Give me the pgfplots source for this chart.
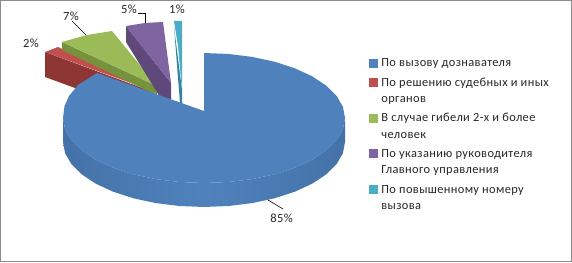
\documentclass[border=0pt]{standalone}
\usepackage{pgfplots}
\pgfplotsset{compat=1.18}
\usepackage{fontspec}
\setmainfont[LetterSpace=3]{Carlito}
\definecolor{cb}{HTML}{4F81BD}
\definecolor{cr}{HTML}{C0504D}
\definecolor{cg}{HTML}{9BBB59}
\definecolor{cp}{HTML}{8064A2}
\definecolor{ct}{HTML}{4BACC6}
\definecolor{wr}{HTML}{8E3634}
\definecolor{wg}{HTML}{76923C}
\definecolor{wp}{HTML}{5F497A}
\definecolor{wt}{HTML}{31859C}
\definecolor{frameg}{HTML}{8C8C8C}
\definecolor{txt}{HTML}{262626}
\pgfdeclarehorizontalshading{wall}{100bp}{rgb(0bp)=(0.13,0.24,0.40); rgb(6bp)=(0.20,0.34,0.52); rgb(14bp)=(0.25,0.42,0.62); rgb(50bp)=(0.31,0.51,0.74); rgb(86bp)=(0.25,0.42,0.62); rgb(94bp)=(0.20,0.34,0.52); rgb(100bp)=(0.13,0.24,0.40)}
\pgfplotsset{sw/.style={legend image code/.code={\fill[#1] (0pt,0pt) rectangle (8pt,8pt);}}}
\newcommand{\two}[2]{\parbox[t]{176pt}{\baselineskip=16.5pt\strut #1\\\strut #2}}
\begin{document}
\begin{tikzpicture}
\begin{axis}[
  scale only axis, width=572pt, height=262pt,
  xmin=0, xmax=572, ymin=0, ymax=262, y dir=reverse,
  hide axis, clip=false, no markers,
  legend style={at={(axis cs:369,55.3)}, anchor=north west, draw=none, fill=none,
    inner sep=0pt, outer sep=0pt, row sep=2.7pt, column sep=4pt,
    font=\fontsize{12.4}{16.5}\selectfont\color{txt},
    cells={anchor=base west},
    nodes={inner sep=0pt, text depth={}}},
]
\addlegendimage{sw=cb}\addlegendentry{\strut По вызову дознавателя}
\addlegendimage{sw=cr}\addlegendentry{\two{По решению судебных и иных}{органов}}
\addlegendimage{sw=cg}\addlegendentry{\two{В случае гибели 2-х и более}{человек}}
\addlegendimage{sw=cp}\addlegendentry{\two{По указанию руководителя}{Главного управления}}
\addlegendimage{sw=ct}\addlegendentry{\two{По повышенному номеру}{вызова}}

% frame
\addplot[forget plot, frameg, line width=1pt] coordinates {(0.5,0.5)(571.5,0.5)(571.5,261.5)(0.5,261.5)(0.5,0.5)};

% red slice
\addplot[forget plot, fill=wr, draw=none] coordinates {(45,52)(45,77)(75,88)(100,90)(150,94)(153,92)};
\addplot[forget plot, fill=cr, draw=none] coordinates {(45,52)(58,47)(153,91)};
% green slice
\addplot[forget plot, fill=wg, draw=none] coordinates {(62,42)(62,50)(152,93)(157,94)(157,86)};
\addplot[forget plot, fill=cg, draw=none] coordinates {(62,42)(87,35)(112,31)(157,86)};
% purple slice
\addplot[forget plot, fill=wp, draw=none] coordinates {(126,26)(126,42)(160,97)(171,100)(171,83)};
\addplot[forget plot, fill=cp, draw=none] coordinates {(126,26)(145,23)(163,22)(171,83)};
% teal slice
\addplot[forget plot, fill=wt, draw=none] coordinates {(174,27)(180,103)(182,103)(182,90)};
\addplot[forget plot, fill=ct, draw=none] coordinates {(174,21)(182,21)(182,90)(178,46)};

% blue side wall
\addplot[forget plot, shade, shading=wall, draw=none] coordinates {
(345,118)(342.9,129.3)(336.5,140.2)(326.1,150.5)(312,159.8)(294.6,167.8)(274.5,174.3)(252.2,179.1)(228.5,182)
(204,183)(179.5,182)(155.8,179.1)(133.5,174.3)(113.4,167.8)(96,159.8)(81.9,150.5)(71.5,140.2)(65.1,129.3)(63,118)
(63,142)(65.1,153.3)(71.5,164.2)(81.9,174.5)(96,183.8)(113.4,191.8)(133.5,198.3)(155.8,203.1)(179.5,206)
(204,207)(228.5,206)(252.2,203.1)(274.5,198.3)(294.6,191.8)(312,183.8)(326.1,174.5)(336.5,164.2)(342.9,153.3)(345,142)};
% blue top
\addplot[forget plot, fill=cb, draw=none] coordinates {
(204,53)(228.5,54)(252.2,56.9)(274.5,61.7)(294.6,68.2)(312,76.2)(326.1,85.5)(336.5,95.8)(342.9,106.7)(345,118)
(342.9,129.3)(336.5,140.2)(326.1,150.5)(312,159.8)(294.6,167.8)(274.5,174.3)(252.2,179.1)(228.5,182)(204,183)
(179.5,182)(155.8,179.1)(133.5,174.3)(113.4,167.8)(96,159.8)(81.9,150.5)(71.5,140.2)(65.1,129.3)(63,118)
(64.5,106)(69,96)(78,85)(97,73)(204,111)};

% leader lines
\addplot[forget plot, black, line width=0.6pt] coordinates {(268,200)(283,209)};
\addplot[forget plot, black, line width=0.6pt] coordinates {(72,21)(86,35)};
\addplot[forget plot, black, line width=0.6pt] coordinates {(138,13)(145,13)(145,23)};

% data labels
\node[font=\fontsize{12.5}{13}\selectfont\color{txt}] at (axis cs:281.5,218) {85\%};
\node[font=\fontsize{12.5}{13}\selectfont\color{txt}] at (axis cs:31,43) {2\%};
\node[font=\fontsize{12.5}{13}\selectfont\color{txt}] at (axis cs:71,16) {7\%};
\node[font=\fontsize{12.5}{13}\selectfont\color{txt}] at (axis cs:129,9) {5\%};
\node[font=\fontsize{12.5}{13}\selectfont\color{txt}] at (axis cs:177,9) {1\%};
\end{axis}
\end{tikzpicture}
\end{document}
